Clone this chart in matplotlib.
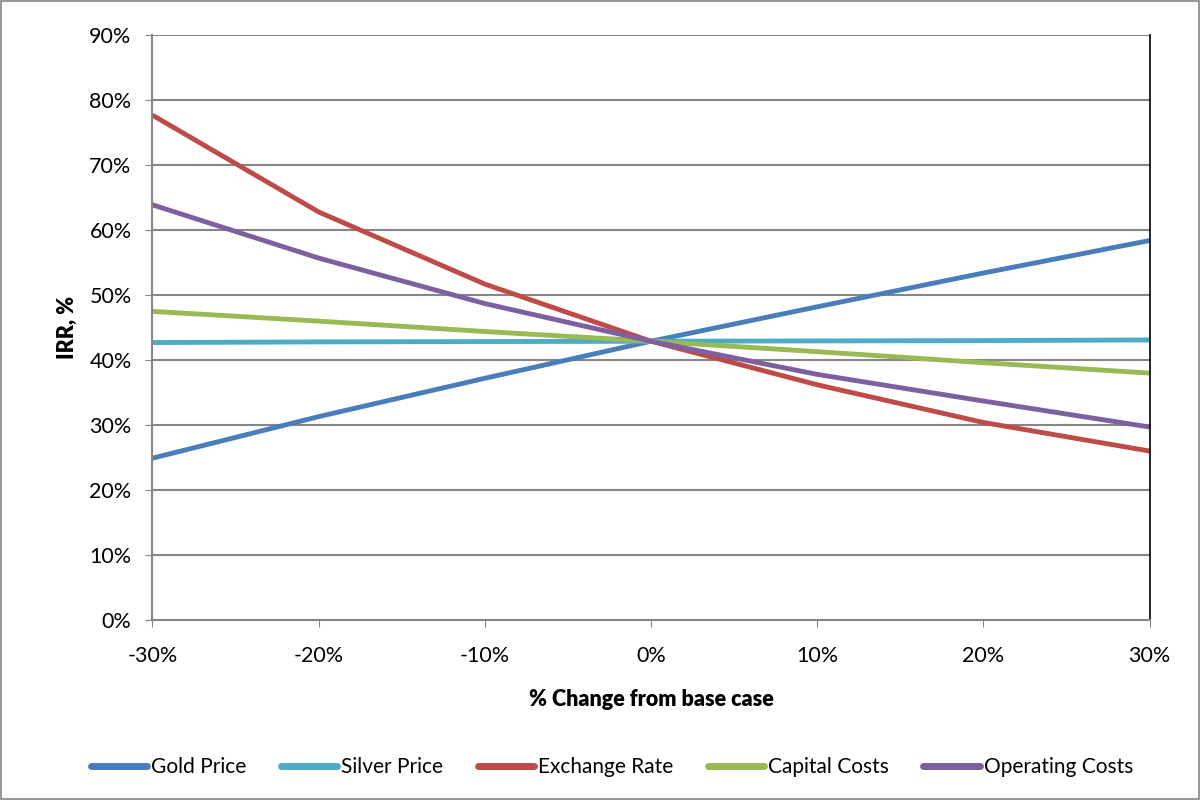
import matplotlib
matplotlib.use('Agg')
import matplotlib.pyplot as plt
from matplotlib.ticker import PercentFormatter

# % change from base case
changes = [-30, -20, -10, 0, 10, 20, 30]

# IRR (%) for each sensitivity
gold_price = [24.9, 31.3, 37.2, 42.9, 48.2, 53.4, 58.4]
silver_price = [42.7, 42.8, 42.85, 42.9, 42.95, 43.0, 43.1]
exchange_rate = [77.7, 62.8, 51.7, 42.9, 36.2, 30.4, 26.0]
capital_costs = [47.5, 46.0, 44.4, 42.9, 41.3, 39.6, 38.0]
operating_costs = [63.9, 55.7, 48.7, 42.9, 37.8, 33.7, 29.7]

series = [
    ('Gold Price', gold_price, '#4a7ebb'),
    ('Silver Price', silver_price, '#4bacc6'),
    ('Exchange Rate', exchange_rate, '#be4b48'),
    ('Capital Costs', capital_costs, '#98b954'),
    ('Operating Costs', operating_costs, '#7d60a0'),
]

plt.rcParams['font.family'] = ['Lato', 'DejaVu Sans']
plt.rcParams['axes.unicode_minus'] = False

fig = plt.figure(figsize=(12, 8), dpi=100)
ax = fig.add_axes([0.127, 0.225, 0.831, 0.731])

for name, vals, color in series:
    ax.plot(changes, vals, color=color, lw=3.5, label=name, solid_capstyle='butt')

ax.set_xlim(-30, 30)
ax.set_ylim(0, 90)
ax.set_xticks(changes)
ax.set_yticks(range(0, 91, 10))
ax.xaxis.set_major_formatter(PercentFormatter(decimals=0))
ax.yaxis.set_major_formatter(PercentFormatter(decimals=0))
ax.tick_params(labelsize=15.5, length=5, color='#868686', direction='out')
ax.tick_params(axis='x', pad=14)
ax.tick_params(axis='y', pad=10)
ax.grid(axis='y', color='#868686', lw=1.5)
ax.set_axisbelow(True)

for side in ['left', 'bottom']:
    ax.spines[side].set_color('#868686')
    ax.spines[side].set_linewidth(1.5)
ax.spines['top'].set_visible(False)
ax.spines['right'].set_color('black')
ax.spines['right'].set_linewidth(1.2)

ax.set_xlabel('% Change from base case', fontsize=15.5, fontweight='heavy', labelpad=16)
ax.set_ylabel('IRR, %', fontsize=15.5, fontweight='heavy', labelpad=8)

leg = ax.legend(loc='center', bbox_to_anchor=(0.461, -0.252), ncol=5, frameon=False,
                fontsize=15, handlelength=2.7, handletextpad=0.2, columnspacing=1.65)
for line in leg.get_lines():
    line.set_linewidth(5)
    line.set_solid_capstyle('round')

# chart border
fig.patches.append(plt.Rectangle((0.001, 0.001), 0.998, 0.998, transform=fig.transFigure,
                                 fill=False, edgecolor='#868686', lw=1.2))

fig.savefig('out.png', dpi=100)
